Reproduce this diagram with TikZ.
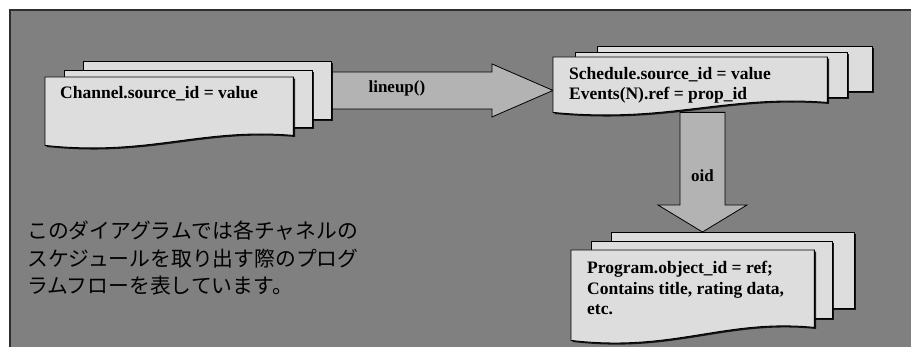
\documentclass[tikz,border=0pt]{standalone}
\usepackage{fontspec}
\setmainfont{Liberation Serif}
\newfontfamily\jpfont{Noto Sans CJK JP}
\usetikzlibrary{calc,positioning,shadows}
\definecolor{bggray}{HTML}{808080}
\definecolor{framegray}{HTML}{2E2E2E}
\definecolor{sheetgray}{HTML}{DDDDDD}
\definecolor{arrowgray}{HTML}{B3B3B3}
\tikzset{%
  sheetpen/.style={draw,fill=sheetgray,line width=0.9pt,
    drop shadow={shadow xshift=1.6pt,shadow yshift=-1.6pt,opacity=0.85,fill=black}},
  sheet/.style={sheetpen,anchor=north west,inner sep=0pt},
  docfront/.style={anchor=north west,inner sep=0pt},
  doctext/.style={anchor=north west,align=left,inner sep=0pt,font=\bfseries\fontsize{17.5}{20.5}\selectfont},
  blockarrow/.style={draw,fill=arrowgray,line width=0.8pt},
  arrowlabel/.style={font=\bfseries\fontsize{17}{20}\selectfont},
  jptext/.style={anchor=north west,align=left,inner sep=0pt,font=\jpfont\fontsize{20.8}{27.5}\selectfont},
}
\pgfdeclarelayer{bglayer}
\pgfdeclarelayer{arrowlayer}
\pgfsetlayers{bglayer,arrowlayer,main}

\begin{document}
\begin{tikzpicture}[x=1pt,y=-1pt]
  \useasboundingbox (0,0) rectangle (911,347);
  \begin{pgfonlayer}{bglayer}
    \fill[bggray] (10,10) rectangle (911,347);
    \draw[framegray,line width=2pt] (10,347) -- (10,10) -- (911,10);
  \end{pgfonlayer}

  % Channel stack
  \node[sheet,minimum width=248pt,minimum height=58pt] (chanBack) at (83,61) {};
  \node[sheet,minimum width=248pt,minimum height=57pt] (chanMid) at (64,70) {};
  \node[docfront,minimum width=248pt,minimum height=68pt] (chanDoc) at (45,77) {};
  \draw[sheetpen] (chanDoc.north west) -- (chanDoc.north east) -- ([yshift=10pt]chanDoc.south east)
    .. controls +(-93,-8) and +(105,11) .. (chanDoc.south west) -- cycle;
  \node[doctext] (chanText) at (60,86) {Channel.source\_id = value};

  % Schedule stack
  \node[sheet,minimum width=275pt,minimum height=45pt] (schedBack) at (597,46) {};
  \node[sheet,minimum width=272pt,minimum height=45pt] (schedMid) at (575,52) {};
  \node[docfront,minimum width=274pt,minimum height=55pt] (schedDoc) at (553,57) {};
  \draw[sheetpen] (schedDoc.north west) -- (schedDoc.north east) -- ([yshift=10pt]schedDoc.south east)
    .. controls +(-103,-8) and +(116,11) .. (schedDoc.south west) -- cycle;
  \node[doctext] (schedText) at (569,67) {Schedule.source\_id = value\\Events(N).ref = prop\_id};

  % Program stack
  \node[sheet,minimum width=243pt,minimum height=76pt] (progBack) at (611,232) {};
  \node[sheet,minimum width=241pt,minimum height=77pt] (progMid) at (591,241) {};
  \node[docfront,minimum width=243pt,minimum height=90pt] (progDoc) at (571,250) {};
  \draw[sheetpen] (progDoc.north west) -- (progDoc.north east) -- ([yshift=13pt]progDoc.south east)
    .. controls +(-90,-9) and +(103,12) .. (progDoc.south west) -- cycle;
  \node[doctext] (progText) at (587,261) {Program.object\_id = ref;\\Contains title, rating data,\\etc.};

  % block arrows
  \coordinate (lineupTip) at (schedDoc.west |- chanBack.east);
  \coordinate (oidTip) at ($(progBack.north west)!0.375!(progBack.north east)$);
  \coordinate (oidTail) at (oidTip |- schedDoc.south);
  \begin{pgfonlayer}{arrowlayer}
    \draw[blockarrow] ($(chanBack.east)+(0,-18.5)$) -- ($(lineupTip)+(-61,-18.5)$) -- ($(lineupTip)+(-61,-26.5)$)
      -- (lineupTip) -- ($(lineupTip)+(-61,26.5)$) -- ($(lineupTip)+(-61,18.5)$) -- ($(chanBack.east)+(0,18.5)$) -- cycle;
    \draw[blockarrow] ($(oidTail)+(-22.5,0)$) -- ($(oidTip)+(-22.5,-27)$) -- ($(oidTip)+(-44.5,-27)$)
      -- (oidTip) -- ($(oidTip)+(44.5,-27)$) -- ($(oidTip)+(22.5,-27)$) -- ($(oidTail)+(22.5,0)$) -- cycle;
  \end{pgfonlayer}
  \node[arrowlabel] (lineupLabel) at ($(chanBack.east)+(65,-2)$) {lineup()};
  \node[arrowlabel] (oidLabel) at ($(oidTail)+(0,63)$) {oid};

  \node[jptext] (note) at (27,221) {このダイアグラムでは各チャネルの\\スケジュールを取り出す際のプログ\\ラムフローを表しています。};
\end{tikzpicture}
\end{document}
